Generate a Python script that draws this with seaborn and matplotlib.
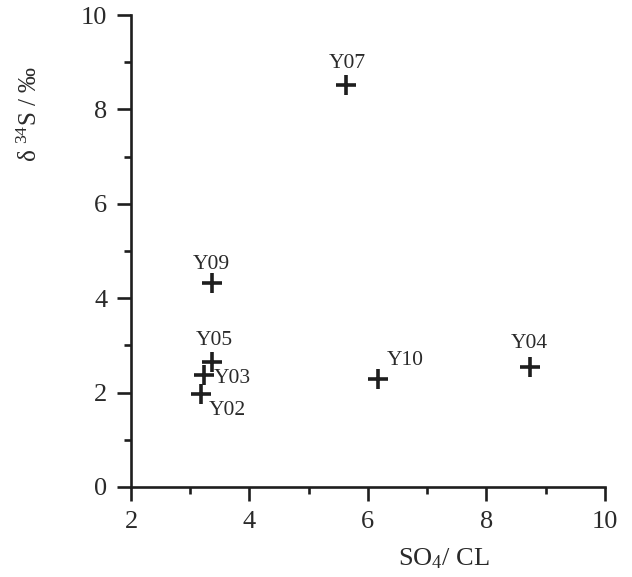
import numpy as np
import pandas as pd
import seaborn as sns
import matplotlib.pyplot as plt
from matplotlib.ticker import MultipleLocator

#--> data
samples = ['Y07', 'Y09', 'Y05', 'Y03', 'Y02', 'Y10', 'Y04']
so4_cl = [5.63, 3.36, 3.37, 3.23, 3.19, 6.17, 8.73]
delta34s = [8.52, 4.32, 2.65, 2.37, 1.97, 2.28, 2.55]

# label offsets (pixels) and alignment per sample
label_pos = {
    'Y07': (1, 12, 'center', 'bottom'),
    'Y09': (0, 9, 'center', 'bottom'),
    'Y05': (2, 12, 'center', 'bottom'),
    'Y03': (10, -3, 'left', 'center'),
    'Y02': (7, -16, 'left', 'center'),
    'Y10': (9, 19, 'left', 'center'),
    'Y04': (0, 14, 'center', 'bottom'),
}

df = pd.DataFrame({'sample': samples, 'x': so4_cl, 'y': delta34s})

sns.set_theme(style="ticks")
plt.rcParams['font.family'] = ['Liberation Serif', 'DejaVu Serif']
plt.rcParams['mathtext.fontset'] = 'custom'
plt.rcParams['mathtext.rm'] = 'Liberation Serif'
plt.rcParams['mathtext.it'] = 'Liberation Serif:italic'

ink = '#1e1e1e'
fig = plt.figure(figsize=(6.32, 5.77), dpi=100)
ax = fig.add_axes([0.2073, 0.156, 0.7497, 0.818])

sns.scatterplot(data=df, x='x', y='y', marker='+', s=190, linewidth=2.6,
                color=ink, ax=ax, zorder=3)

for _, r in df.iterrows():
    dx, dy, ha, va = label_pos[r['sample']]
    ax.annotate(r['sample'], (r['x'], r['y']), xytext=(dx, dy),
                textcoords='offset pixels', ha=ha, va=va,
                fontsize=15.5, color='#2a2a2a')

ax.set_xlim(2, 10)
ax.set_ylim(0, 10)
ax.xaxis.set_major_locator(MultipleLocator(2))
ax.xaxis.set_minor_locator(MultipleLocator(1))
ax.yaxis.set_major_locator(MultipleLocator(2))
ax.yaxis.set_minor_locator(MultipleLocator(1))

for side in ['top', 'right']:
    ax.spines[side].set_visible(False)
for side in ['left', 'bottom']:
    ax.spines[side].set_linewidth(1.9)
    ax.spines[side].set_color(ink)

ax.tick_params(which='major', direction='out', length=10, width=1.9,
               color=ink, labelsize=19, labelcolor='#2a2a2a', pad=7)
ax.tick_params(which='minor', direction='out', length=5, width=1.9, color=ink)

ax.set_xlabel('SO$_4$/ CL', fontsize=19, color='#2a2a2a')
ax.xaxis.set_label_coords(0.66, -0.125)
ax.set_ylabel('δ $^{34}$S / ‰', fontsize=18, color='#2a2a2a')
ax.yaxis.set_label_coords(-0.188, 0.79)

fig.savefig('out.png', dpi=100)
